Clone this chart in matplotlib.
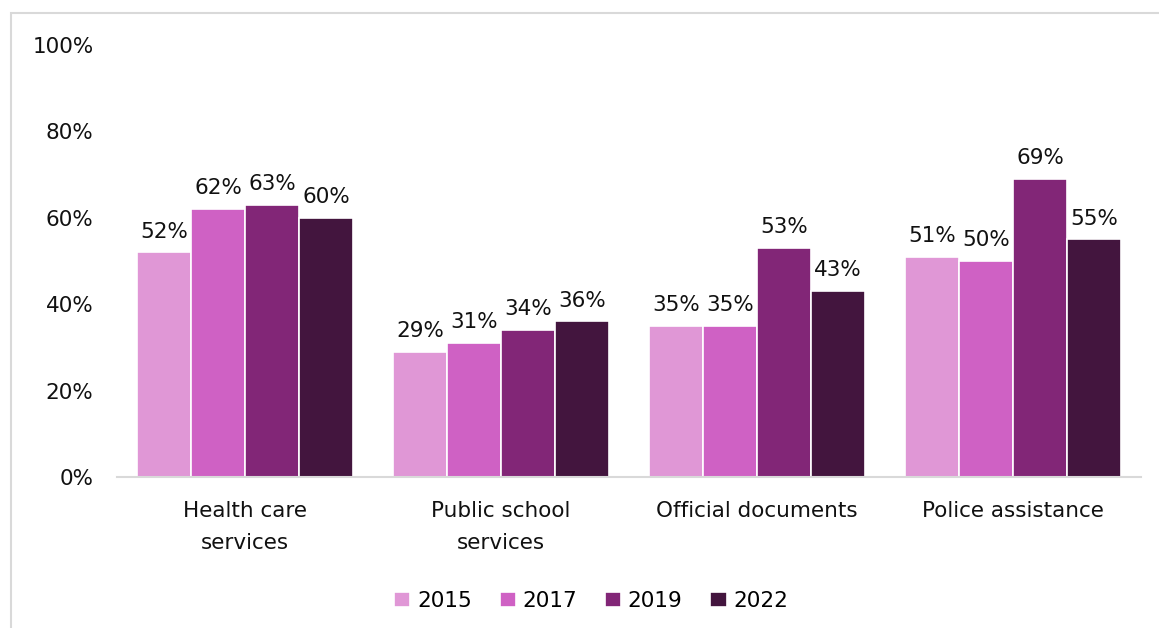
import numpy as np
import matplotlib.pyplot as plt
from matplotlib.patches import Rectangle

plt.rcParams['font.family'] = ['DejaVu Sans']

categories = ["Health care\nservices", "Public school\nservices", "Official documents", "Police assistance"]
years = ["2015", "2017", "2019", "2022"]
values = {
    "2015": [52, 29, 35, 51],
    "2017": [62, 31, 35, 50],
    "2019": [63, 34, 53, 69],
    "2022": [60, 36, 43, 55],
}
colors = ["#E097D6", "#CF61C4", "#822677", "#43153E"]
fs = 15.5

fig = plt.figure(figsize=(11.59, 6.28), dpi=100)
ax = fig.add_axes([0.101, 0.2404, 0.8835, 0.688])

# light grey frame round the chart area
fig.patches.append(Rectangle((11 / 1159, -0.05), 1.1, 1 - 13 / 628 + 0.05,
                             transform=fig.transFigure, fill=False,
                             edgecolor="#D9D9D9", linewidth=1.5))

x = np.arange(len(categories))
w = 0.211
for i, (yr, c) in enumerate(zip(years, colors)):
    pos = x + (i - 1.5) * w
    bars = ax.bar(pos, values[yr], w, color=c, edgecolor="white", linewidth=1.2, label=yr, zorder=2)
    for b, v in zip(bars, values[yr]):
        ax.text(b.get_x() + b.get_width() / 2, v + 2.5, f"{v}%", ha="center", va="bottom",
                fontsize=fs, color="#111111")

ax.set_ylim(0, 100)
ax.set_xlim(-0.5, len(categories) - 0.5)
ax.set_yticks(range(0, 101, 20))
ax.set_yticklabels([f"{t}%" for t in range(0, 101, 20)], fontsize=fs, color="#111111")
ax.set_xticks(x)
ax.set_xticklabels(categories, fontsize=fs, color="#111111", linespacing=1.75)
ax.tick_params(axis="both", length=0)
ax.tick_params(axis="y", pad=17)
ax.tick_params(axis="x", pad=17)
for s in ["top", "right", "left"]:
    ax.spines[s].set_visible(False)
ax.spines["bottom"].set_color("#D9D9D9")
ax.spines["bottom"].set_linewidth(1.5)

fig.legend(loc="center", bbox_to_anchor=(0.51, 0.043), ncol=4, frameon=False,
           fontsize=fs, handlelength=0.75, handleheight=0.75, handletextpad=0.3,
           columnspacing=1.3)

fig.savefig("out.png", dpi=100)
